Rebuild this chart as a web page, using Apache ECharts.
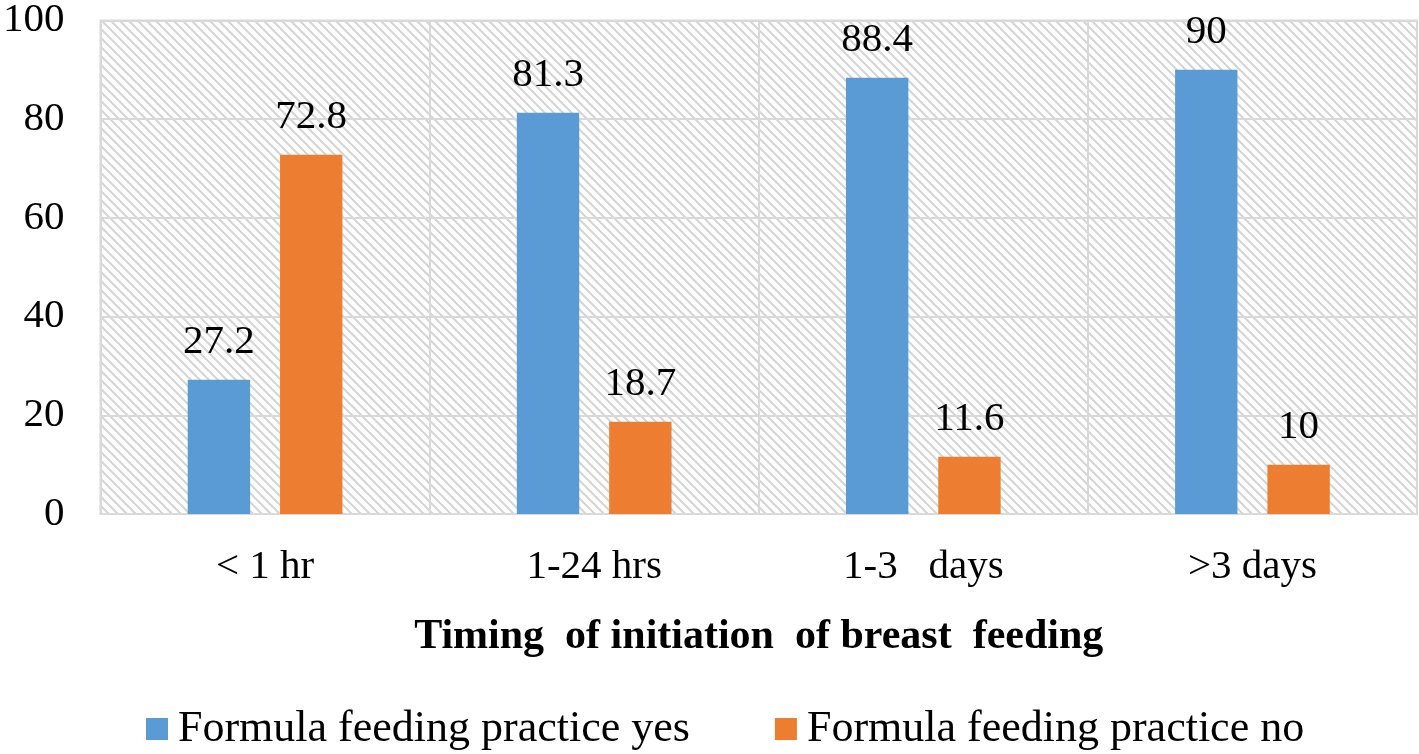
<!DOCTYPE html>
<html><head><meta charset="utf-8">
<script src="https://cdn.jsdelivr.net/npm/echarts@6/dist/echarts.min.js"></script>
<style>html,body{margin:0;padding:0;background:#fff}#c{width:1419px;height:754px}</style>
</head><body><div id="c"></div>
<script>
const categories = ['< 1 hr', '1-24 hrs', '1-3   days', '>3 days'];
const seriesYes = [27.2, 81.3, 88.4, 90];
const seriesNo = [72.8, 18.7, 11.6, 10];
const seriesNames = ['Formula feeding practice yes', 'Formula feeding practice no'];
const xTitle = 'Timing  of initiation  of breast  feeding';

const tile = document.createElement('canvas');
tile.width = 9; tile.height = 9;
const g = tile.getContext('2d');
g.strokeStyle = '#d6d6d6';
g.lineWidth = 2.2;
g.beginPath();
g.moveTo(-2, -2); g.lineTo(11, 11);
g.moveTo(-11, -2); g.lineTo(2, 11);
g.moveTo(7, -2); g.lineTo(20, 11);
g.stroke();

const font = 'Liberation Serif';
const chart = echarts.init(document.getElementById('c'));
const labelCfg = { show: true, position: 'top', distance: 17, fontFamily: font, fontSize: 41, color: '#000' };
chart.setOption({
  animation: false,
  textStyle: { fontFamily: font },
  grid: { left: 97, right: 2, top: 16, bottom: 240, show: true, borderColor: '#d9d9d9', borderWidth: 2,
          backgroundColor: { image: tile, repeat: 'repeat' } },
  legend: { bottom: -2, left: 141, itemWidth: 22, itemHeight: 22, itemGap: 85,
            textStyle: { fontFamily: font, fontSize: 44, color: '#000', padding: [0, 0, 0, 5] }, icon: 'rect' },
  xAxis: {
    type: 'category', data: categories,
    axisLine: { lineStyle: { color: '#d9d9d9', width: 2 } },
    axisTick: { show: false },
    splitLine: { show: true, lineStyle: { color: '#d9d9d9', width: 2 } },
    axisLabel: { fontFamily: font, fontSize: 41, color: '#000', margin: 33 },
    name: xTitle, nameLocation: 'middle', nameGap: 102,
    nameTextStyle: { fontFamily: font, fontSize: 42, fontWeight: 'bold', color: '#000' }
  },
  yAxis: {
    type: 'value', min: 0, max: 100, interval: 20,
    axisLine: { show: false }, axisTick: { show: false },
    splitLine: { lineStyle: { color: '#d9d9d9', width: 2 } },
    axisLabel: { fontFamily: font, fontSize: 41, color: '#000', margin: 36 }
  },
  series: [
    { name: seriesNames[0], type: 'bar', data: seriesYes, itemStyle: { color: '#5B9BD5' },
      barGap: '48%', barCategoryGap: '53%', label: labelCfg },
    { name: seriesNames[1], type: 'bar', data: seriesNo, itemStyle: { color: '#ED7D31' },
      barGap: '48%', barCategoryGap: '53%', label: labelCfg }
  ]
});
</script></body></html>
